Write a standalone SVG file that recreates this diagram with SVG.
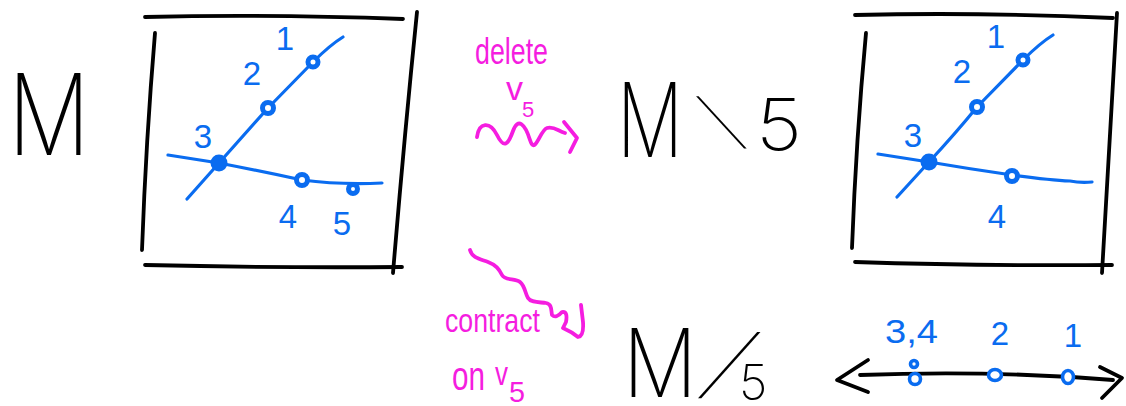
<svg xmlns="http://www.w3.org/2000/svg" width="1126" height="406" viewBox="0 0 1126 406">
<style>
  .ink{fill:none;stroke:#000;stroke-width:3.8;stroke-linecap:round;stroke-linejoin:round}
  .edge{fill:none;stroke:#0a6cf0;stroke-width:3.2;stroke-linecap:round;stroke-linejoin:round}
  .ring{fill:#fff;stroke:#0a6cf0;stroke-width:5}
  .oval{fill:#fff;stroke:#0a6cf0;stroke-width:3.6}
  .dot{fill:#0a6cf0;stroke:#0a6cf0;stroke-width:2}
  .num{font-family:"Liberation Sans",Arial,sans-serif;font-size:33px;fill:#0a6cf0;text-anchor:middle}
  .big{font-family:Inter,"Open Sans","Liberation Sans",sans-serif;font-weight:200;fill:#000}
  .pink{fill:none;stroke:#f51de0;stroke-width:3.8;stroke-linecap:round;stroke-linejoin:round}
  .note{font-family:"Liberation Sans",Arial,sans-serif;fill:#f51de0}
</style>

<!-- M : the original arrangement of five points on two lines -->
<g id="matroid-M">
  <text class="big" x="8" y="155" font-size="113" textLength="82" lengthAdjust="spacingAndGlyphs">M</text>
  <g id="frame-M">
    <path class="ink" d="M145,17 Q270,14 403,19"/>
    <path class="ink" d="M155,33 Q146,140 142,250"/>
    <path class="ink" d="M417,12 Q404,140 393,273"/>
    <path class="ink" d="M145,265 Q270,268 402,267"/>
  </g>
  <g id="lines-M">
    <path class="edge" d="M187,199 L219,163 Q245,134 268,108 L313,62 Q330,45 343,37"/>
    <path class="edge" d="M168,155 L219,163 Q260,171 302,180 Q340,185 382,183"/>
  </g>
  <g id="M-p1"><circle class="ring" cx="313" cy="62" r="5"/><text class="num" x="285" y="50">1</text></g>
  <g id="M-p2"><circle class="ring" cx="268" cy="108" r="5.5"/><text class="num" x="252" y="85">2</text></g>
  <g id="M-p3"><circle class="dot" cx="219" cy="163" r="7.5"/><text class="num" x="203" y="148">3</text></g>
  <g id="M-p4"><circle class="ring" cx="302" cy="180" r="5.5"/><text class="num" x="288" y="228">4</text></g>
  <g id="M-p5"><circle class="ring" cx="353" cy="189" r="4.5"/><text class="num" x="342" y="235">5</text></g>
</g>

<!-- M \ 5 : deletion keeps the geometry, drops point 5 -->
<g id="matroid-delete">
  <text class="big" x="617" y="157" font-size="103" textLength="66" lengthAdjust="spacingAndGlyphs">M</text>
  <text class="big" font-size="60" transform="translate(724,142) skewX(33)">\</text>
  <text class="big" x="756" y="150" font-size="72" textLength="46" lengthAdjust="spacingAndGlyphs">5</text>
  <g id="frame-delete">
    <path class="ink" d="M855,15 Q980,12 1113,18"/>
    <path class="ink" d="M866,33 Q856,140 852,248"/>
    <path class="ink" d="M1117,13 Q1110,140 1102,273"/>
    <path class="ink" d="M855,262 Q980,266 1112,265"/>
  </g>
  <g id="lines-delete">
    <path class="edge" d="M897,197 L929,162 Q955,134 977,107 L1023,60 Q1040,43 1053,35"/>
    <path class="edge" d="M878,154 L929,162 Q970,169 1012,175 Q1050,180 1070,181 Q1080,183 1092,182"/>
  </g>
  <g id="D-p1"><circle class="ring" cx="1023" cy="60" r="5"/><text class="num" x="996" y="48">1</text></g>
  <g id="D-p2"><circle class="ring" cx="977" cy="107" r="5.5"/><text class="num" x="962" y="83">2</text></g>
  <g id="D-p3"><circle class="dot" cx="929" cy="162" r="7.5"/><text class="num" x="913" y="147">3</text></g>
  <g id="D-p4"><circle class="ring" cx="1012" cy="176" r="5.5"/><text class="num" x="997" y="228">4</text></g>
</g>

<!-- M / 5 : contraction projects the points onto a line -->
<g id="matroid-contract">
  <text class="big" x="623" y="397" font-size="95" textLength="74" lengthAdjust="spacingAndGlyphs">M</text>
  <text class="big" font-size="76" transform="translate(701,390) skewX(-32)">/</text>
  <text class="big" x="739" y="400" font-size="49">5</text>
  <g id="line-contract">
    <path class="ink" d="M860,375 Q990,370 1113,380"/>
    <path class="ink" d="M868,360 L837,380 L868,392"/>
    <path class="ink" d="M1100,367 L1122,378 L1102,398"/>
  </g>
  <g id="C-p34">
    <circle class="oval" cx="914" cy="364" r="3.5"/>
    <circle class="oval" cx="915" cy="379" r="5.5"/>
    <text class="num" x="885" y="343" font-size="32" textLength="53" lengthAdjust="spacingAndGlyphs" style="text-anchor:start">3,4</text>
  </g>
  <g id="C-p2"><ellipse class="oval" cx="995" cy="375" rx="6.5" ry="5.5"/><text class="num" x="1000" y="345" font-size="22">2</text></g>
  <g id="C-p1"><ellipse class="oval" cx="1068" cy="377" rx="5.5" ry="6.5"/><text class="num" x="1073" y="347" font-size="34">1</text></g>
</g>

<!-- operation arrows -->
<g id="connectors">
  <g id="op-delete">
    <text class="note" x="475" y="64" font-size="36" textLength="73" lengthAdjust="spacingAndGlyphs">delete</text>
    <text class="note" x="506" y="100" font-size="34">v</text>
    <text class="note" x="522" y="117" font-size="22">5</text>
    <path class="pink" d="M477,137 C479,122 490,121 497,135 S508,145 513,131 S525,124 530,140 S540,130 547,128 S558,131 565,133"/>
    <path class="pink" d="M564,122 L577,138 L570,152"/>
  </g>
  <g id="op-contract">
    <path class="pink" d="M470,250 C472,258 480,259 488,262 S499,269 502,275 S515,278 520,282 S525,293 528,298 S540,302 546,303 S551,310 552,315 Q556,319 562,312 Q568,311 566,322 L563,328 Q572,332 578,337 Q584,336 583,322 L581,305"/>
    <text class="note" x="445" y="332" font-size="34" textLength="95" lengthAdjust="spacingAndGlyphs">contract</text>
    <text class="note" x="452" y="390" font-size="40" textLength="33" lengthAdjust="spacingAndGlyphs">on</text>
    <text class="note" x="495" y="385" font-size="34" textLength="13" lengthAdjust="spacingAndGlyphs">v</text>
    <text class="note" x="509" y="402" font-size="30" textLength="16" lengthAdjust="spacingAndGlyphs">5</text>
  </g>
</g>
</svg>
